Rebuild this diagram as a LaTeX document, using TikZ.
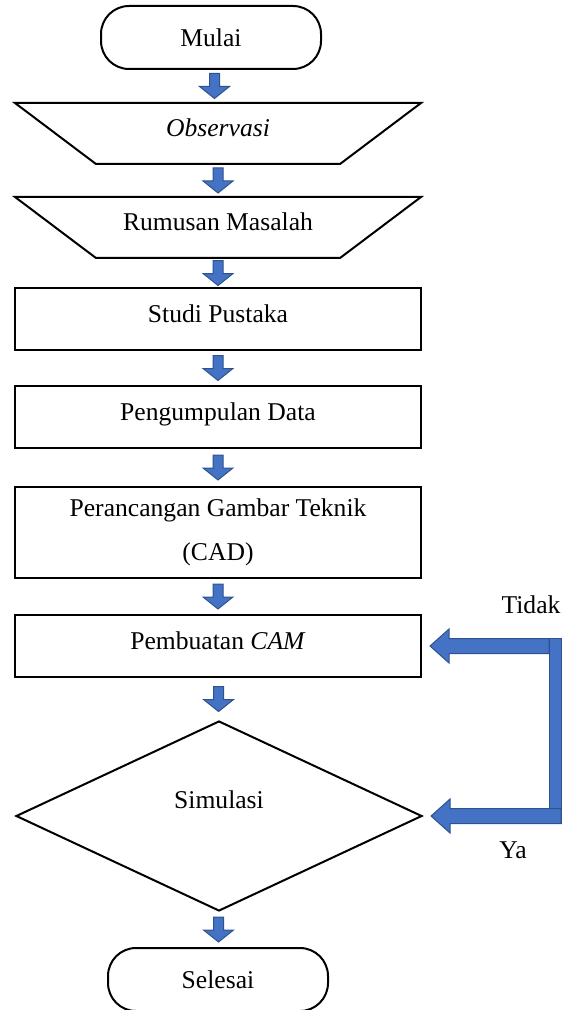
\documentclass[tikz,border=0pt]{standalone}
\usepackage{fontspec}
\setmainfont{Liberation Serif}
\usetikzlibrary{shapes.geometric,calc}
\definecolor{arrowfill}{HTML}{4472C4}
\definecolor{arrowline}{HTML}{2F528F}

\tikzset{
  flowbox/.style={draw, line width=1pt, rectangle, minimum width=203pt, minimum height=31pt,
    inner sep=0pt, text height=8pt, text depth=5pt},
  flowio/.style={draw, line width=1pt, trapezium, trapezium left angle=17.8, trapezium right angle=17.8,
    shape border rotate=180, trapezium stretches body, minimum width=203pt, minimum height=30.5pt,
    inner sep=0pt, text height=8pt, text depth=5pt},
  terminal/.style={draw, line width=1pt, rectangle, rounded corners=14pt, minimum width=110pt,
    minimum height=31.5pt, inner sep=0pt},
  decision/.style={draw, line width=1pt, diamond, minimum width=203pt, minimum height=95pt,
    inner sep=0pt, text height=8pt, text depth=15.6pt},
  blockarrow/.style={draw=arrowline, fill=arrowfill, line width=0.5pt, line join=miter},
  answer/.style={inner sep=0pt}
}

% fat downward arrow in the gap between two nodes (#1 = sideways shift in px)
\newcommand{\flowarrow}[3][0]{%
  \draw[blockarrow, xshift=#1*0.5pt] let \p1=($(#2.south)!0.5!(#3.north)$) in
    (\x1-2.5pt,\y1+6.25pt) -- (\x1-2.5pt,\y1-0.25pt) -- (\x1-7.5pt,\y1-0.25pt) --
    (\x1,\y1-6.25pt) -- (\x1+7.5pt,\y1-0.25pt) -- (\x1+2.5pt,\y1-0.25pt) --
    (\x1+2.5pt,\y1+6.25pt) -- cycle;}

\begin{document}
\begin{tikzpicture}[x=0.5pt, y=-0.5pt, font=\fontsize{12.8pt}{22pt}\selectfont]
    \useasboundingbox (0,0) rectangle (571,1010);

    % --- steps ---
    \node[terminal] (mulai) at (211,37.5) {Mulai};
    \node[flowio] (obs) at (218,133.5) {\textit{Observasi}};
    \node[flowio] (rumusan) at (218,227.5) {Rumusan Masalah};
    \node[flowbox] (studi) at (218,319) {Studi Pustaka};
    \node[flowbox] (data) at (218,417) {Pengumpulan Data};
    \node[flowbox, minimum height=45.5pt, text height=, text depth=, align=center] (cad) at (218,532.5)
        {Perancangan Gambar Teknik\\(CAD)};
    \node[flowbox] (cam) at (218,646) {Pembuatan \textit{CAM}};
    \node[decision] (sim) at (219,816) {Simulasi};
    \node[terminal] (selesai) at (218,979.5) {Selesai};

    % --- flow arrows ---
    \flowarrow[-4.5]{mulai}{obs}
    \flowarrow[-8]{obs}{rumusan}
    \flowarrow[-6]{rumusan}{studi}
    \flowarrow[-5]{studi}{data}
    \flowarrow[-5]{data}{cad}
    \flowarrow{cad}{cam}
    \flowarrow{cam}{sim}
    \flowarrow{sim}{selesai}

    % --- loop back on the right ---
    \draw[blockarrow] ($(cam.east)+(8,0)$) -- ++(19,-17) -- ++(0,9.5) -- ++(100,0) -- ++(0,15)
        -- ++(-100,0) -- ++(0,9.5) -- cycle;
    \draw[blockarrow] ($(cam.east)+(127,-7.5)$) rectangle ($(sim.east)+(138,7.5)$);
    \draw[blockarrow] ($(sim.east)+(8,0)$) -- ++(19,-17) -- ++(0,9.5) -- ++(111,0) -- ++(0,15)
        -- ++(-111,0) -- ++(0,9.5) -- cycle;
    \node[answer] (tidak) at (531,605) {Tidak};
    \node[answer] (ya) at (513,850) {Ya};
\end{tikzpicture}
\end{document}
